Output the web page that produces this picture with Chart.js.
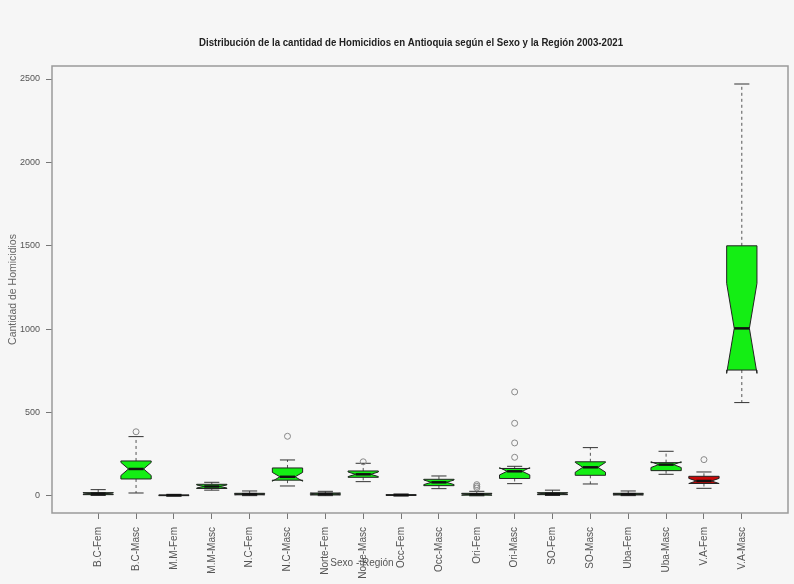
<!DOCTYPE html>
<html>
<head>
<meta charset="utf-8">
<script src="https://cdn.jsdelivr.net/npm/chart.js@4"></script>
<style>
	html, body { margin: 0; padding: 0; background: #f6f6f6; }
	#chart01 { display: block; }
</style>
</head>
<body>
<canvas id="chart01" width="794" height="584"></canvas>
<script>
const title = "Distribución de la cantidad de Homicidios en Antioquia según el Sexo y la Región 2003-2021";

const categories = [
	"B.C-Fem", "B.C-Masc", "M.M-Fem", "M.M-Masc", "N.C-Fem", "N.C-Masc",
	"Norte-Fem", "Norte-Masc", "Occ-Fem", "Occ-Masc", "Ori-Fem", "Ori-Masc",
	"SO-Fem", "SO-Masc", "Uba-Fem", "Uba-Masc", "V.A-Fem", "V.A-Masc",
];

// box statistics (19 years per group)
const whiskerLow = [3, 18, 0, 35, 2, 60, 2, 86, 1, 44, 1, 74, 3, 72, 2, 130, 46, 560];
const q1 = [8, 102, 2, 45, 7, 95, 6, 112, 3, 62, 5, 105, 8, 124, 6, 152, 75, 755];
const median = [14, 162, 4, 57, 11, 115, 12, 130, 5, 82, 10, 148, 13, 172, 11, 188, 90, 1005];
const q3 = [20, 210, 6, 70, 16, 168, 18, 150, 8, 100, 16, 165, 20, 205, 16, 200, 118, 1500];
const whiskerHigh = [38, 356, 10, 82, 30, 216, 28, 196, 12, 120, 28, 178, 35, 290, 30, 268, 144, 2470];
const outliers = [
	[], [385], [], [], [], [358], [], [205], [], [],
	[48, 58, 68], [232, 318, 436, 624], [], [], [], [], [218], [],
];
const nYears = 19;

const yTicks = [0, 500, 1000, 1500, 2000, 2500];

const boxColors = categories.map((c) => (c === "V.A-Fem" ? "#c80a0a" : "#14ee14"));

const outlierPoints = [];
outliers.forEach((list, i) => list.forEach((v) => outlierPoints.push({ x: i + 1, y: v })));

const boxPlugin = {
	id: "boxes",
	beforeDatasetsDraw(chart) {
		const { ctx, chartArea: a } = chart;
		const x = chart.scales.x;
		const y = chart.scales.y;
		ctx.save();

		// plot frame
		ctx.strokeStyle = "#9a9a9a";
		ctx.lineWidth = 1.5;
		ctx.strokeRect(a.left, a.top, a.right - a.left, a.bottom - a.top);

		categories.forEach((c, i) => {
			const xc = x.getPixelForValue(i + 1);
			const hw = x.getPixelForValue(i + 1.4) - xc;
			const sw = hw * 0.5;
			const half = (1.58 * (q3[i] - q1[i])) / Math.sqrt(nYears);
			const yq1 = y.getPixelForValue(q1[i]);
			const yq3 = y.getPixelForValue(q3[i]);
			const ym = y.getPixelForValue(median[i]);
			const ynl = y.getPixelForValue(median[i] - half);
			const ynu = y.getPixelForValue(median[i] + half);
			const ywl = y.getPixelForValue(whiskerLow[i]);
			const ywh = y.getPixelForValue(whiskerHigh[i]);

			// whiskers
			ctx.strokeStyle = "#555";
			ctx.lineWidth = 1;
			ctx.setLineDash([3, 3]);
			ctx.beginPath();
			ctx.moveTo(xc, yq3);
			ctx.lineTo(xc, ywh);
			ctx.moveTo(xc, yq1);
			ctx.lineTo(xc, ywl);
			ctx.stroke();
			ctx.setLineDash([]);
			ctx.strokeStyle = "#333";
			ctx.beginPath();
			ctx.moveTo(xc - sw, ywh);
			ctx.lineTo(xc + sw, ywh);
			ctx.moveTo(xc - sw, ywl);
			ctx.lineTo(xc + sw, ywl);
			ctx.stroke();

			// notched box
			ctx.beginPath();
			ctx.moveTo(xc - hw, yq1);
			ctx.lineTo(xc - hw, ynl);
			ctx.lineTo(xc - sw, ym);
			ctx.lineTo(xc - hw, ynu);
			ctx.lineTo(xc - hw, yq3);
			ctx.lineTo(xc + hw, yq3);
			ctx.lineTo(xc + hw, ynu);
			ctx.lineTo(xc + sw, ym);
			ctx.lineTo(xc + hw, ynl);
			ctx.lineTo(xc + hw, yq1);
			ctx.closePath();
			ctx.fillStyle = boxColors[i];
			ctx.fill();
			ctx.strokeStyle = "#222";
			ctx.lineWidth = 1;
			ctx.stroke();

			// median
			ctx.lineWidth = 2.5;
			ctx.strokeStyle = "#111";
			ctx.beginPath();
			ctx.moveTo(xc - sw, ym);
			ctx.lineTo(xc + sw, ym);
			ctx.stroke();
		});

		// titles
		ctx.fillStyle = "#222";
		ctx.textAlign = "center";
		ctx.textBaseline = "middle";
		ctx.font = "bold 11.5px 'Liberation Sans Narrow', 'Liberation Sans', Arial, sans-serif";
		const w = ctx.measureText(title).width;
		const k = Math.min(1, 424 / w);
		ctx.save();
		ctx.translate(411, 43);
		ctx.scale(k, 1);
		ctx.fillText(title, 0, 0);
		ctx.restore();

		ctx.fillStyle = "#555";
		ctx.font = "10px 'Liberation Sans', Arial, sans-serif";
		ctx.fillText("Sexo - Región", 362, 563);
		ctx.restore();
	},
};

const options = {
	responsive: false,
	animation: false,
	devicePixelRatio: 1,
	layout: {
		padding: { top: 66, right: 6, bottom: 0, left: 0 },
	},
	plugins: {
		legend: { display: false },
		title: { display: false },
		tooltip: { enabled: false },
	},
	scales: {
		x: {
			type: "linear",
			min: -0.22,
			max: 19.22,
			afterBuildTicks: (scale) => {
				scale.ticks = categories.map((c, i) => ({ value: i + 1 }));
			},
			afterFit: (scale) => {
				scale.height = 71;
			},
			ticks: {
				autoSkip: false,
				minRotation: 90,
				maxRotation: 90,
				padding: 8,
				color: "#555",
				font: { family: "'Liberation Sans', Arial, sans-serif", size: 10 },
				callback: (v) => categories[v - 1],
			},
			grid: { drawOnChartArea: false, drawTicks: true, tickLength: 6, color: "#777" },
			border: { display: false },
		},
		y: {
			type: "linear",
			min: -102,
			max: 2578,
			afterBuildTicks: (scale) => {
				scale.ticks = yTicks.map((v) => ({ value: v }));
			},
			afterFit: (scale) => {
				scale.width = 52;
			},
			ticks: {
				padding: 6,
				color: "#555",
				font: { family: "'Liberation Sans Narrow', 'Liberation Sans', Arial, sans-serif", size: 9 },
				callback: (v) => String(v),
			},
			title: {
				display: true,
				text: "Cantidad de Homicidios",
				color: "#666",
				font: { family: "'Liberation Sans', Arial, sans-serif", size: 10.5 },
				padding: { top: 7, bottom: 0 },
			},
			grid: { drawOnChartArea: false, drawTicks: true, tickLength: 6, color: "#777" },
			border: { display: false },
		},
	},
};

const data = {
	datasets: [
		{
			label: "Outliers",
			data: outlierPoints,
			pointRadius: 3,
			pointBorderWidth: 1,
			pointBorderColor: "#888",
			pointBackgroundColor: "rgba(0,0,0,0)",
		},
	],
};

const config = {
	type: "scatter",
	data,
	options,
	plugins: [boxPlugin],
};

new Chart(document.querySelector("#chart01"), config);
</script>
</body>
</html>
